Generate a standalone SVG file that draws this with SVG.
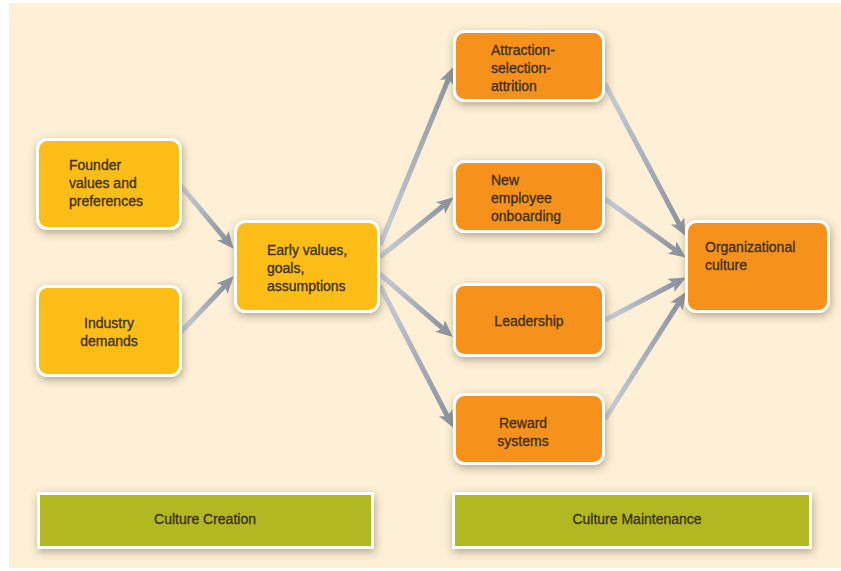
<svg xmlns="http://www.w3.org/2000/svg" width="841" height="571" viewBox="0 0 841 571">
<style>
.bg{fill:#fdf0d6}
.y{fill:#fcbd14;stroke:#ffffff;stroke-width:3}
.o{fill:#f6921f;stroke:#ffffff;stroke-width:3}
.g{fill:#b2b824;stroke:#ffffff;stroke-width:3}
.sh{filter:url(#shadow)}
text{font-family:"Liberation Sans",Arial,sans-serif;font-size:14px;fill:#3a2f18;stroke:#3a2f18;stroke-width:0.3}
.c{text-anchor:middle}
.a{fill:none;stroke-width:5}
</style>
<defs>
<filter id="shadow" x="-20%" y="-25%" width="145%" height="160%">
<feDropShadow dx="1" dy="3" stdDeviation="4" flood-color="#5a4a30" flood-opacity="0.45"/>
</filter>
<marker id="ah" markerUnits="userSpaceOnUse" viewBox="0 0 17 15" markerWidth="17" markerHeight="15" refX="4" refY="7.5" orient="auto">
<path d="M0,0 L17,7.5 L0,15 L4,7.5 Z" fill="#8d95a2"/>
</marker>
<linearGradient id="g1" gradientUnits="userSpaceOnUse" x1="183" y1="188" x2="225" y2="239"><stop offset="0" stop-color="#c9ced6"/><stop offset="1" stop-color="#8d95a2"/></linearGradient>
<linearGradient id="g2" gradientUnits="userSpaceOnUse" x1="183" y1="330" x2="225" y2="286"><stop offset="0" stop-color="#c9ced6"/><stop offset="1" stop-color="#8d95a2"/></linearGradient>
<linearGradient id="g3" gradientUnits="userSpaceOnUse" x1="382" y1="240" x2="448" y2="79"><stop offset="0" stop-color="#c9ced6"/><stop offset="1" stop-color="#8d95a2"/></linearGradient>
<linearGradient id="g4" gradientUnits="userSpaceOnUse" x1="382" y1="255" x2="444" y2="205"><stop offset="0" stop-color="#c9ced6"/><stop offset="1" stop-color="#8d95a2"/></linearGradient>
<linearGradient id="g5" gradientUnits="userSpaceOnUse" x1="382" y1="275" x2="443" y2="329"><stop offset="0" stop-color="#c9ced6"/><stop offset="1" stop-color="#8d95a2"/></linearGradient>
<linearGradient id="g6" gradientUnits="userSpaceOnUse" x1="382" y1="290" x2="447" y2="416"><stop offset="0" stop-color="#c9ced6"/><stop offset="1" stop-color="#8d95a2"/></linearGradient>
<linearGradient id="g7" gradientUnits="userSpaceOnUse" x1="607" y1="87" x2="679" y2="224"><stop offset="0" stop-color="#c9ced6"/><stop offset="1" stop-color="#8d95a2"/></linearGradient>
<linearGradient id="g8" gradientUnits="userSpaceOnUse" x1="607" y1="200" x2="675" y2="250"><stop offset="0" stop-color="#c9ced6"/><stop offset="1" stop-color="#8d95a2"/></linearGradient>
<linearGradient id="g9" gradientUnits="userSpaceOnUse" x1="608" y1="318" x2="674" y2="284"><stop offset="0" stop-color="#c9ced6"/><stop offset="1" stop-color="#8d95a2"/></linearGradient>
<linearGradient id="g10" gradientUnits="userSpaceOnUse" x1="607" y1="416" x2="679" y2="303"><stop offset="0" stop-color="#c9ced6"/><stop offset="1" stop-color="#8d95a2"/></linearGradient>
</defs>
<rect x="0" y="0" width="841" height="571" fill="#ffffff"/>
<rect class="bg" x="9" y="3" width="832" height="565"/>
<g id="connectors">
<line class="a" stroke="url(#g1)" x1="181" y1="186" x2="225.3" y2="238.8" marker-end="url(#ah)"/>
<line class="a" stroke="url(#g2)" x1="181" y1="332" x2="224.8" y2="285.7" marker-end="url(#ah)"/>
<line class="a" stroke="url(#g3)" x1="380" y1="245" x2="448.4" y2="79.1" marker-end="url(#ah)"/>
<line class="a" stroke="url(#g4)" x1="380" y1="257" x2="443.6" y2="205.5" marker-end="url(#ah)"/>
<line class="a" stroke="url(#g5)" x1="380" y1="274" x2="443.0" y2="328.6" marker-end="url(#ah)"/>
<line class="a" stroke="url(#g6)" x1="380" y1="286" x2="447.5" y2="416.3" marker-end="url(#ah)"/>
<line class="a" stroke="url(#g7)" x1="605" y1="84" x2="679.4" y2="224.4" marker-end="url(#ah)"/>
<line class="a" stroke="url(#g8)" x1="605" y1="199" x2="675.3" y2="249.9" marker-end="url(#ah)"/>
<line class="a" stroke="url(#g9)" x1="605" y1="320" x2="674.4" y2="283.5" marker-end="url(#ah)"/>
<line class="a" stroke="url(#g10)" x1="605" y1="419" x2="678.6" y2="303.1" marker-end="url(#ah)"/>
</g>
<g id="founder">
<rect class="y sh" x="37.5" y="139.5" width="143" height="89" rx="10"/>
<text x="69" y="170">Founder</text>
<text x="69" y="188">values and</text>
<text x="69" y="206">preferences</text>
</g>
<g id="industry">
<rect class="y sh" x="37.5" y="286.5" width="143" height="89" rx="10"/>
<text class="c" x="109" y="328">Industry</text>
<text class="c" x="109" y="346">demands</text>
</g>
<g id="early">
<rect class="y sh" x="235.5" y="221.5" width="143" height="90" rx="10"/>
<text x="267" y="255">Early values,</text>
<text x="267" y="273">goals,</text>
<text x="267" y="291">assumptions</text>
</g>
<g id="attraction">
<rect class="o sh" x="454.5" y="31.5" width="149" height="69" rx="10"/>
<text x="491" y="55">Attraction-</text>
<text x="491" y="73">selection-</text>
<text x="491" y="91">attrition</text>
</g>
<g id="onboarding">
<rect class="o sh" x="454.5" y="161.5" width="149" height="70" rx="10"/>
<text x="491" y="185">New</text>
<text x="491" y="203">employee</text>
<text x="491" y="221">onboarding</text>
</g>
<g id="leadership">
<rect class="o sh" x="454.5" y="284.5" width="149" height="71" rx="10"/>
<text class="c" x="529" y="326">Leadership</text>
</g>
<g id="reward">
<rect class="o sh" x="454.5" y="394.5" width="149" height="69" rx="10"/>
<text class="c" x="523" y="428">Reward</text>
<text class="c" x="523" y="446">systems</text>
</g>
<g id="orgculture">
<rect class="o sh" x="686.5" y="221.5" width="142" height="90" rx="10"/>
<text x="705" y="252">Organizational</text>
<text x="705" y="270">culture</text>
</g>
<g id="creation">
<rect class="g sh" x="38.5" y="493.5" width="334" height="54"/>
<text class="c" x="205" y="524">Culture Creation</text>
</g>
<g id="maintenance">
<rect class="g sh" x="453.5" y="493.5" width="357" height="54"/>
<text class="c" x="637" y="524">Culture Maintenance</text>
</g>
</svg>
